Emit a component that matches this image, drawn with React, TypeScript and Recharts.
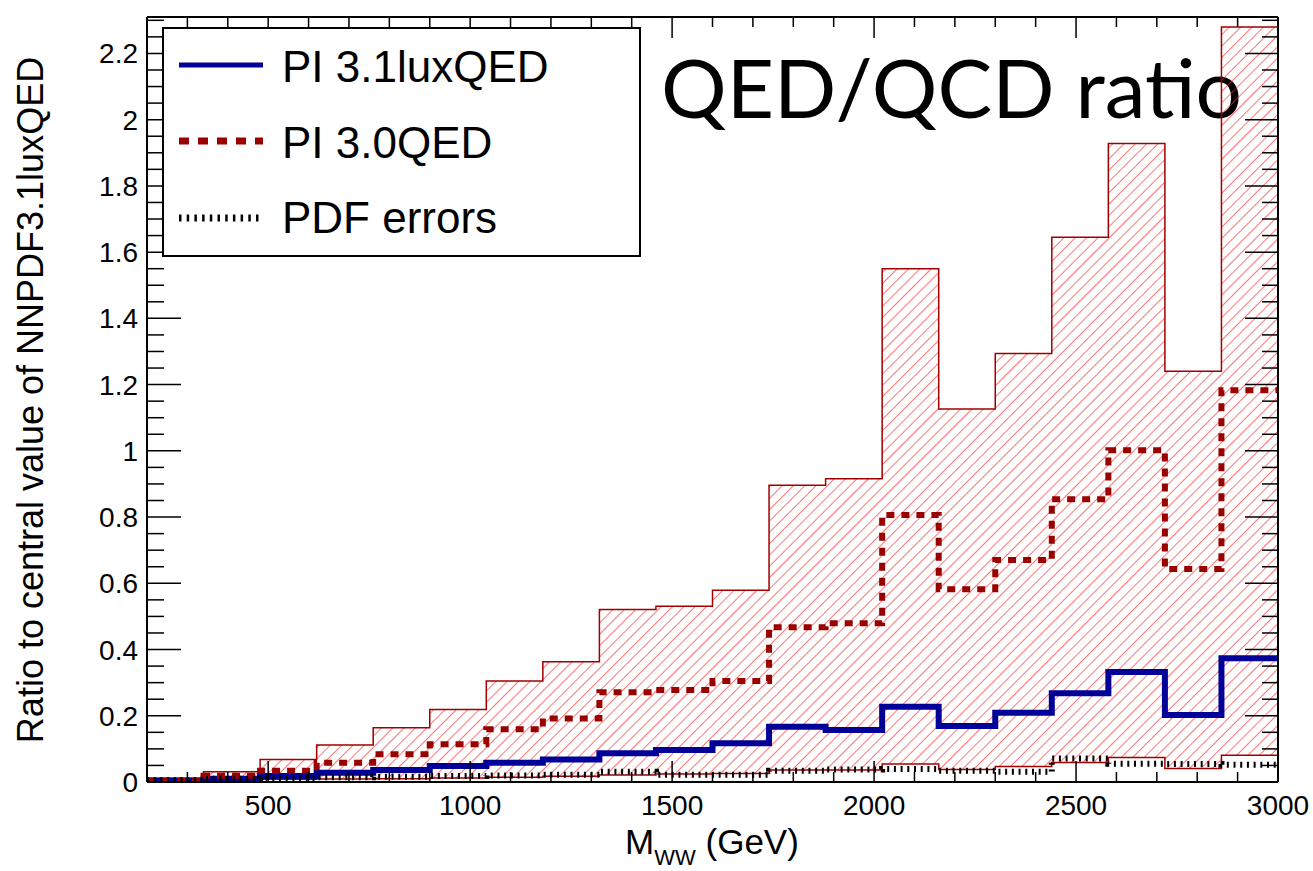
import {
  ComposedChart,
  Area,
  Line,
  XAxis,
  YAxis,
  Legend,
  Customized,
} from "recharts";

// bin edges of the M_WW histogram (GeV)
const binEdges = [
  200, 340, 480, 620, 760, 900, 1040, 1180, 1320, 1460, 1600, 1740, 1880,
  2020, 2160, 2300, 2440, 2580, 2720, 2860, 3000,
];

// per-bin values
const luxQED = [
  0.003, 0.01, 0.018, 0.028, 0.036, 0.048, 0.058, 0.068, 0.087, 0.097, 0.117,
  0.167, 0.157, 0.227, 0.169, 0.209, 0.268, 0.332, 0.202, 0.374,
];
const qed30 = [
  0.004, 0.019, 0.034, 0.058, 0.084, 0.114, 0.159, 0.192, 0.271, 0.278, 0.305,
  0.467, 0.479, 0.806, 0.582, 0.67, 0.854, 1.002, 0.643, 1.183,
];
const pdfErr = [
  0.006, 0.01, 0.012, 0.014, 0.016, 0.018, 0.02, 0.022, 0.031, 0.022, 0.022,
  0.034, 0.038, 0.039, 0.034, 0.031, 0.071, 0.055, 0.054, 0.052,
];
const bandLo = [
  0.004, 0.006, 0.008, 0.009, 0.01, 0.012, 0.014, 0.017, 0.021, 0.024, 0.026,
  0.036, 0.036, 0.054, 0.038, 0.047, 0.059, 0.074, 0.041, 0.081,
];
const bandHi = [
  0.012, 0.031, 0.068, 0.112, 0.164, 0.219, 0.305, 0.363, 0.521, 0.531, 0.579,
  0.896, 0.916, 1.55, 1.126, 1.294, 1.645, 1.928, 1.24, 2.28,
];

// ticks
const xMajorTicks = [500, 1000, 1500, 2000, 2500, 3000];
const xMinorTicks = [
  300, 400, 600, 700, 800, 900, 1100, 1200, 1300, 1400, 1600, 1700, 1800,
  1900, 2100, 2200, 2300, 2400, 2600, 2700, 2800, 2900,
];
const yMajorTicks = [0, 0.2, 0.4, 0.6, 0.8, 1, 1.2, 1.4, 1.6, 1.8, 2, 2.2];
const yMinorTicks = Array.from({ length: 47 }, (_, i) => +(i * 0.05).toFixed(2)).filter(
  (v) => !yMajorTicks.includes(v)
);

const xTicks = [...xMinorTicks, ...xMajorTicks];
const yTicks = [...yMinorTicks, ...yMajorTicks];

const data = binEdges.map((x, i) => {
  const j = Math.min(i, luxQED.length - 1);
  return {
    x,
    lux: luxQED[j],
    qed: qed30[j],
    pdf: pdfErr[j],
    lo: bandLo[j],
    hi: bandHi[j],
    band: [bandLo[j], bandHi[j]],
  };
});

const FONT = "'Liberation Sans', Arial, Helvetica, sans-serif";
// plot frame (page == svg coords, wrapper is fixed at 0,0)
const PL = 147;
const PT = 17;
const PR = 1278;
const PB = 782;

const BottomTick = (props: any) => {
  const { x, payload } = props;
  const major = xMajorTicks.includes(payload.value);
  return (
    <g>
      <line x1={x} x2={x} y1={PB} y2={PB - (major ? 21 : 10)} stroke="#000" strokeWidth={1.5} />
      {major && (
        <text x={x} y={815} textAnchor="middle" fontSize={28} fontFamily={FONT} fill="#000">
          {payload.value}
        </text>
      )}
    </g>
  );
};

const TopTick = (props: any) => {
  const { x, payload } = props;
  const major = xMajorTicks.includes(payload.value);
  return <line x1={x} x2={x} y1={PT} y2={PT + (major ? 21 : 10)} stroke="#000" strokeWidth={1.5} />;
};

const LeftTick = (props: any) => {
  const { y, payload } = props;
  const major = yMajorTicks.includes(payload.value);
  return (
    <g>
      <line x1={PL} x2={PL + (major ? 34 : 17)} y1={y} y2={y} stroke="#000" strokeWidth={1.5} />
      {major && (
        <text x={138} y={y + 10} textAnchor="end" fontSize={28} fontFamily={FONT} fill="#000">
          {payload.value}
        </text>
      )}
    </g>
  );
};

const RightTick = (props: any) => {
  const { y, payload } = props;
  const major = yMajorTicks.includes(payload.value);
  return <line x1={PR} x2={PR - (major ? 33 : 16)} y1={y} y2={y} stroke="#000" strokeWidth={1.5} />;
};

const XTitle = () => (
  <text x={712} y={854} textAnchor="middle" fontSize={35} fontFamily={FONT} fill="#000">
    M
    <tspan fontSize={22} dy={11}>
      WW
    </tspan>
    <tspan dy={-11}> (GeV)</tspan>
  </text>
);

const YTitle = () => (
  <text
    transform="rotate(-90)"
    x={-400}
    y={43}
    textAnchor="middle"
    fontSize={36}
    fontFamily={FONT}
    fill="#000"
  >
    Ratio to central value of NNPDF3.1luxQED
  </text>
);

const Title = () => (
  <text x={661} y={118} fontSize={82} fontFamily="Lato, 'Open Sans', sans-serif" fill="#000">
    QED/QCD ratio
  </text>
);

const LegendBox = () => (
  <svg width={479} height={230} style={{ display: "block" }}>
    <rect x={1} y={1} width={477} height={228} fill="#fff" stroke="#000" strokeWidth={2} />
    <line x1={17} x2={101} y1={38} y2={38} stroke="#000099" strokeWidth={5} />
    <line x1={17} x2={101} y1={114} y2={114} stroke="#990000" strokeWidth={7} strokeDasharray="10 9" />
    <line x1={17} x2={101} y1={191} y2={191} stroke="#000" strokeWidth={7} strokeDasharray="2.5 5.2" />
    <g fontFamily={FONT} fontSize={44} fill="#000">
      <text x={120} y={55}>PI 3.1luxQED</text>
      <text x={120} y={131}>PI 3.0QED</text>
      <text x={120} y={206}>PDF errors</text>
    </g>
  </svg>
);

export default function App() {
  const frame = { stroke: "#000", strokeWidth: 2 };
  return (
    <div style={{ position: "fixed", left: 0, top: 0, background: "#fff" }}>
      <ComposedChart
        width={1313}
        height={871}
        data={data}
        margin={{ top: 12, right: 30, bottom: 29, left: 7 }}
      >
        <defs>
          <pattern
            id="hatch"
            patternUnits="userSpaceOnUse"
            width={8}
            height={8}
            patternTransform="rotate(45)"
          >
            <line x1={0} y1={0} x2={0} y2={8} stroke="#ff2a2a" strokeWidth={1.3} />
          </pattern>
        </defs>
        <XAxis
          xAxisId="b"
          dataKey="x"
          type="number"
          domain={[200, 3000]}
          allowDataOverflow
          ticks={xTicks}
          interval={0}
          height={60}
          tick={<BottomTick />}
          tickLine={false}
          axisLine={frame}
          label={<XTitle />}
        />
        <XAxis
          xAxisId="t"
          orientation="top"
          dataKey="x"
          type="number"
          domain={[200, 3000]}
          allowDataOverflow
          ticks={xTicks}
          interval={0}
          height={5}
          tick={<TopTick />}
          tickLine={false}
          axisLine={frame}
        />
        <YAxis
          yAxisId="l"
          type="number"
          domain={[0, 2.31]}
          allowDataOverflow
          ticks={yTicks}
          interval={0}
          width={140}
          tick={<LeftTick />}
          tickLine={false}
          axisLine={frame}
          label={<YTitle />}
        />
        <YAxis
          yAxisId="r"
          orientation="right"
          type="number"
          domain={[0, 2.31]}
          allowDataOverflow
          ticks={yTicks}
          interval={0}
          width={5}
          tick={<RightTick />}
          tickLine={false}
          axisLine={frame}
        />
        <Area
          xAxisId="b"
          yAxisId="l"
          dataKey="band"
          type="stepAfter"
          fill="url(#hatch)"
          fillOpacity={1}
          stroke="none"
          legendType="none"
          isAnimationActive={false}
        />
        <Line
          xAxisId="b"
          yAxisId="l"
          dataKey="hi"
          type="stepAfter"
          stroke="#a00000"
          strokeWidth={1.5}
          dot={false}
          legendType="none"
          isAnimationActive={false}
        />
        <Line
          xAxisId="b"
          yAxisId="l"
          dataKey="lo"
          type="stepAfter"
          stroke="#a00000"
          strokeWidth={1.5}
          dot={false}
          legendType="none"
          isAnimationActive={false}
        />
        <Line
          xAxisId="b"
          yAxisId="l"
          dataKey="lux"
          name="PI 3.1luxQED"
          type="stepAfter"
          stroke="#000099"
          strokeWidth={6}
          dot={false}
          isAnimationActive={false}
        />
        <Line
          xAxisId="b"
          yAxisId="l"
          dataKey="qed"
          name="PI 3.0QED"
          type="stepAfter"
          stroke="#990000"
          strokeWidth={6}
          strokeDasharray="8 7"
          dot={false}
          isAnimationActive={false}
        />
        <Line
          xAxisId="b"
          yAxisId="l"
          dataKey="pdf"
          name="PDF errors"
          type="stepAfter"
          stroke="#000"
          strokeWidth={6}
          strokeDasharray="2 4.7"
          dot={false}
          isAnimationActive={false}
        />
        <Legend
          content={<LegendBox />}
          layout="vertical"
          verticalAlign="middle"
          align="center"
          wrapperStyle={{ position: "absolute", left: 162, top: 27, width: 479, height: 230 }}
        />
        <Customized component={Title} />
      </ComposedChart>
    </div>
  );
}
